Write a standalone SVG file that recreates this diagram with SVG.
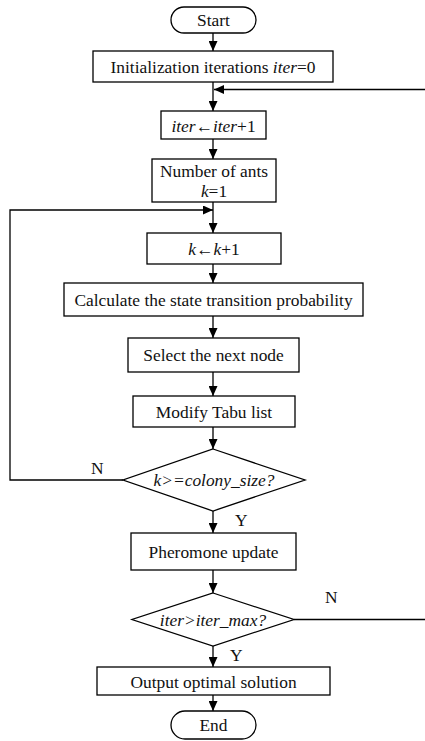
<svg xmlns="http://www.w3.org/2000/svg" width="425" height="741" viewBox="0 0 425 741">
  <style>
    .box { fill: #fff; stroke: #000; stroke-width: 1.3; }
    .ln { fill: none; stroke: #000; stroke-width: 1.3; }
    .t { font-family: "Liberation Serif", "Times New Roman", serif; font-size: 17.4px; fill: #111; text-anchor: middle; }
    .lbl { font-family: "Liberation Serif", "Times New Roman", serif; font-size: 17.4px; fill: #111; }
    .i { font-style: italic; }
  </style>
  <defs>
    <marker id="arr" viewBox="0 0 10 10" refX="10" refY="5" markerWidth="10" markerHeight="9" markerUnits="userSpaceOnUse" orient="auto" preserveAspectRatio="none">
      <path d="M0,0 L10,5 L0,10 Z" fill="#000"/>
    </marker>
  </defs>

  <rect width="425" height="741" fill="#fff"/>

  <g id="connectors">
    <line class="ln" x1="213" y1="33" x2="213" y2="51" marker-end="url(#arr)"/>
    <line class="ln" x1="213" y1="82" x2="213" y2="111" marker-end="url(#arr)"/>
    <line class="ln" x1="425" y1="89.5" x2="214" y2="89.5" marker-end="url(#arr)"/>
    <line class="ln" x1="213" y1="139" x2="213" y2="159" marker-end="url(#arr)"/>
    <line class="ln" x1="213" y1="202" x2="213" y2="233" marker-end="url(#arr)"/>
    <polyline class="ln" points="123,480 10,480 10,210 213,210" marker-end="url(#arr)"/>
    <line class="ln" x1="213" y1="264" x2="213" y2="283" marker-end="url(#arr)"/>
    <line class="ln" x1="213" y1="316" x2="213" y2="338" marker-end="url(#arr)"/>
    <line class="ln" x1="213" y1="372" x2="213" y2="396" marker-end="url(#arr)"/>
    <line class="ln" x1="213" y1="427" x2="213" y2="449" marker-end="url(#arr)"/>
    <line class="ln" x1="213" y1="511" x2="213" y2="533" marker-end="url(#arr)"/>
    <line class="ln" x1="213" y1="570" x2="213" y2="593" marker-end="url(#arr)"/>
    <line class="ln" x1="294" y1="619.5" x2="425" y2="619.5"/>
    <line class="ln" x1="213" y1="646" x2="213" y2="667" marker-end="url(#arr)"/>
    <line class="ln" x1="213" y1="695" x2="213" y2="711" marker-end="url(#arr)"/>
    <text class="lbl" x="91" y="474">N</text>
    <text class="lbl" x="235" y="526">Y</text>
    <text class="lbl" x="325" y="603">N</text>
    <text class="lbl" x="230" y="661">Y</text>
  </g>

  <g id="start">
    <rect class="box" x="171" y="7" width="85" height="26" rx="13"/>
    <text class="t" x="213.5" y="26">Start</text>
  </g>
  <g id="init">
    <rect class="box" x="93" y="51" width="240" height="31"/>
    <text class="t" x="213" y="72.5">Initialization iterations <tspan class="i">iter</tspan>=0</text>
  </g>
  <g id="iter-inc">
    <rect class="box" x="161" y="111" width="105" height="28"/>
    <text class="t" x="213.5" y="131.5"><tspan class="i">iter</tspan>←<tspan class="i">iter</tspan>+1</text>
  </g>
  <g id="ants">
    <rect class="box" x="152" y="159" width="124" height="43"/>
    <text class="t" x="214" y="177">Number of ants</text>
    <text class="t" x="214" y="197"><tspan class="i">k</tspan>=1</text>
  </g>
  <g id="k-inc">
    <rect class="box" x="147" y="233" width="134" height="31"/>
    <text class="t" x="214" y="254.5"><tspan class="i">k</tspan>←<tspan class="i">k</tspan>+1</text>
  </g>
  <g id="calc">
    <rect class="box" x="64" y="283" width="299" height="33"/>
    <text class="t" x="213.5" y="305.5">Calculate the state transition probability</text>
  </g>
  <g id="select">
    <rect class="box" x="128" y="338" width="171" height="34"/>
    <text class="t" x="213.5" y="361">Select the next node</text>
  </g>
  <g id="tabu">
    <rect class="box" x="133" y="396" width="162" height="31"/>
    <text class="t" x="214" y="417.5">Modify Tabu list</text>
  </g>
  <g id="colony-check">
    <polygon class="box" points="213,449 305,480 213,511 123,480"/>
    <text class="t i" x="214" y="486">k&gt;=colony_size?</text>
  </g>
  <g id="pheromone">
    <rect class="box" x="131" y="533" width="165" height="37"/>
    <text class="t" x="213.5" y="557.5">Pheromone update</text>
  </g>
  <g id="iter-check">
    <polygon class="box" points="213,593 294,619.5 213,646 132,619.5"/>
    <text class="t i" x="213" y="625.5">iter&gt;iter_max?</text>
  </g>
  <g id="output">
    <rect class="box" x="97" y="667" width="233" height="28"/>
    <text class="t" x="213.5" y="687.5">Output optimal solution</text>
  </g>
  <g id="end">
    <rect class="box" x="171" y="711" width="85" height="28" rx="14"/>
    <text class="t" x="213.5" y="731">End</text>
  </g>
</svg>
